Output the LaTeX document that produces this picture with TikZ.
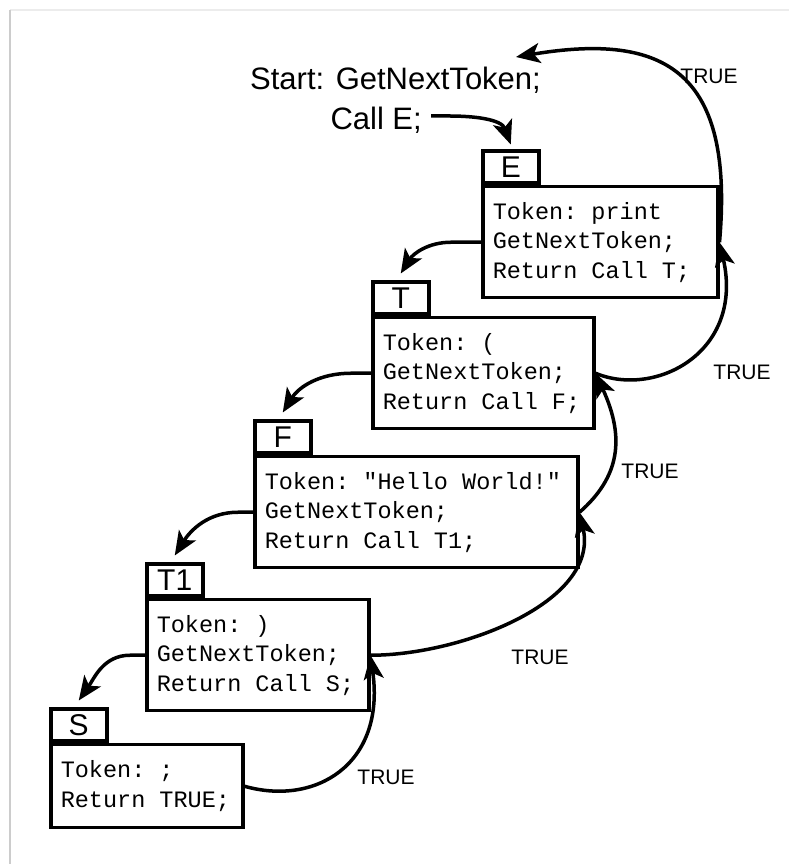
\documentclass[tikz,border=0pt]{standalone}
\usepackage{fontspec}
\setmainfont{Liberation Sans}
\newfontfamily\codefont[WordSpace={1,0,0}]{Liberation Mono}
\usetikzlibrary{arrows.meta}
\begin{document}
\begin{tikzpicture}[x=1pt,y=1pt,
  body/.style={draw,line width=3.5pt,anchor=north west,align=left,
    inner xsep=10pt,inner ysep=0pt,minimum height=111pt,
    font=\codefont\frenchspacing\fontsize{23.5}{29.5}\selectfont,
    execute at begin node={\spaceskip=0pt\xspaceskip=0pt\relax}},
  tabbox/.style={draw,line width=3.5pt,anchor=south west,minimum width=56pt,
    minimum height=32pt,inner sep=0pt,font=\fontsize{30}{30}\selectfont},
  flow/.style={line width=3.5pt,-{Stealth[length=24pt,width=20pt,inset=6pt]}},
  truelbl/.style={font=\fontsize{21}{21}\selectfont,inner sep=0pt},
  heading/.style={font=\fontsize{31}{31}\selectfont,inner sep=0pt},
]
\useasboundingbox (0,0) rectangle (789,864);
% page edge
\draw[gray!15,line width=2pt] (10,854) -- (789,854);
\draw[gray!40,line width=2.5pt] (10,854) -- (10,0);

% start text
\node[heading,anchor=base west] (start) at (250,774) {Start: GetNextToken;};
\node[heading,anchor=base east] (callE) at (422,734) {Call E;};

% procedure boxes (box width = text width + 20pt)
\node[body,text width=215pt] (EB) at (481,679)
  {Token: print\\GetNextToken;\\Return Call T;};
\node[tabbox] (Etab) at (EB.north west) {E};

\node[body,text width=201pt] (TB) at (371,548)
  {Token: (\\GetNextToken;\\Return Call F;};
\node[tabbox] (Ttab) at (TB.north west) {T};

\node[body,text width=303pt] (FB) at (253,409)
  {Token: "Hello World!"\\GetNextToken;\\Return Call T1;};
\node[tabbox] (Ftab) at (FB.north west) {F};

\node[body,text width=202pt] (T1B) at (145,266)
  {Token: )\\GetNextToken;\\Return Call S;};
\node[tabbox] (T1tab) at (T1B.north west) {T1};

\node[body,text width=172pt,minimum height=83pt] (SB) at (49,121)
  {Token: ;\\Return TRUE;};
\node[tabbox] (Stab) at (SB.north west) {S};

\coordinate (back) at (516,807);

% calls
\draw[flow] ([shift={(9pt,14pt)}]callE.base east) -- ++(18,0)
  to[out=0,in=110] ([yshift=5pt]Etab.north);
\draw[flow] (EB.west) -- ++(-30,0) to[out=180,in=58] ([yshift=7pt]Ttab.north);
\draw[flow] (TB.west) -- ++(-20,0) to[out=180,in=58] ([yshift=7pt]Ftab.north);
\draw[flow] (FB.west) -- ++(-15,0) to[out=180,in=58] ([yshift=7pt]T1tab.north);
\draw[flow] (T1B.west) -- ++(-15,0) to[out=180,in=55] ([yshift=7pt]Stab.north);

% returns
\draw[flow] (SB.east) .. controls +(70,-20) and +(15,-110) .. (T1B.east);
\draw[flow] (T1B.east) .. controls +(90,0) and +(20,-90) .. (FB.east);
\draw[flow] (FB.east) .. controls +(40,35) and +(30,-65) .. (TB.east);
\draw[flow] (TB.east) .. controls +(60,-25) and +(25,-110) .. (EB.east);
\draw[flow] (EB.east) .. controls +(15,170) and +(150,25) .. (back);

% labels
\node[truelbl] (t1) at (709,788) {TRUE};
\node[truelbl] (t2) at (742,492) {TRUE};
\node[truelbl] (t3) at (650,393) {TRUE};
\node[truelbl] (t4) at (540,207) {TRUE};
\node[truelbl] (t5) at (386,87) {TRUE};
\end{tikzpicture}
\end{document}
